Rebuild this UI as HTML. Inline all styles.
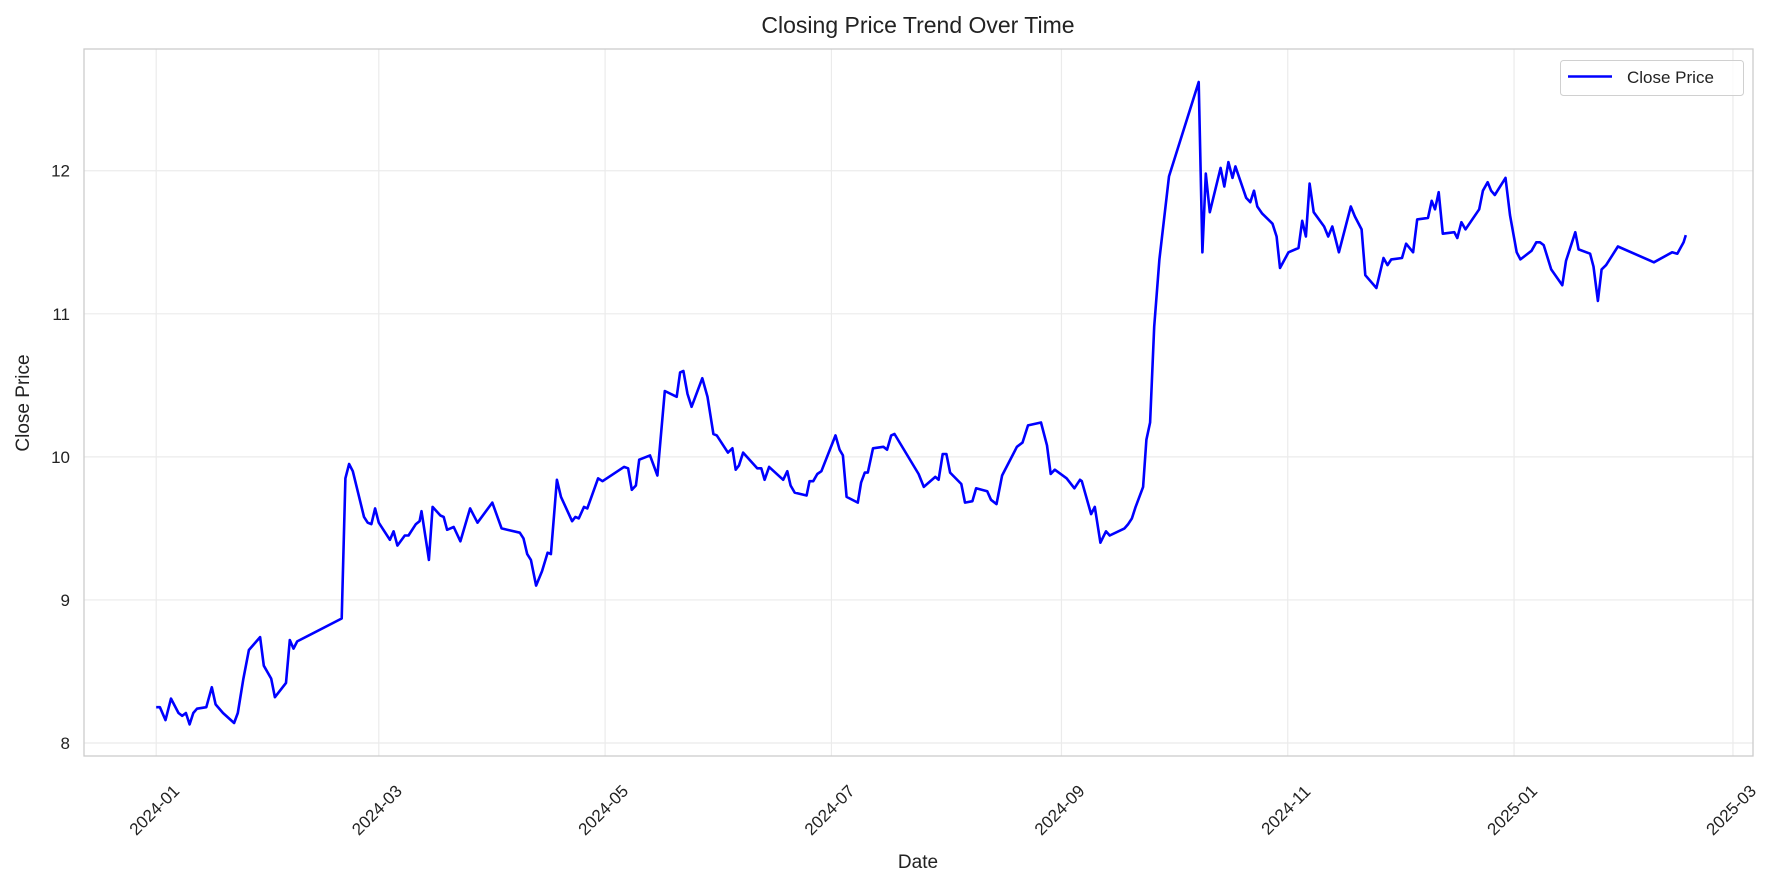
<!DOCTYPE html>
<html><head><meta charset="utf-8"><style>
html,body{margin:0;padding:0;background:#fff;}
svg{display:block;font-family:"Liberation Sans",sans-serif;}
</style></head><body>
<svg id="chart" width="1781" height="885" viewBox="0 0 1781 885">
<rect x="0" y="0" width="1781" height="885" fill="#fff"/>
<text x="918" y="33" font-size="23" text-anchor="middle" fill="#222">Closing Price Trend Over Time</text>
<text x="918" y="868" font-size="19" text-anchor="middle" fill="#222">Date</text>
<text x="0" y="0" font-size="19" text-anchor="middle" fill="#222" transform="translate(29,403) rotate(-90)">Close Price</text>
<g id="grid"></g>
<g id="ticks"></g>
<g id="series"></g>
<rect x="84" y="49" width="1669" height="707" fill="none" stroke="#cccccc" stroke-width="1.3"/>
<g>
<rect x="1560.5" y="60.5" width="183" height="35" rx="3" fill="#fff" fill-opacity="0.8" stroke="#d0d0d0"/>
<line x1="1568" y1="76.5" x2="1612" y2="76.5" stroke="#0000ff" stroke-width="2.4"/>
<text x="1627" y="83" font-size="17" fill="#222">Close Price</text>
</g>
</svg>
<script>
// data: days since 2024-01-01 and closing prices
const days = [0,1,2.5,4,6,7,8,9,10,11,13.5,15,16,18,21,22,23.5,25,28,29,31,32,35,36,37,38,50,51,52,53,56,57,58,59,60,63,64,65,67,68,70,71,71.5,73,73.5,74.5,76.6,77.5,78.4,80.2,82,84.6,86.6,90.6,93.1,98,99,100,101,102.4,104,105.5,106.4,108,109.1,112.1,113,113.9,115.3,116.2,119.1,120.3,126.1,127.2,128.2,129.3,130.2,133.1,135.1,137.1,140.3,141.2,142.1,143.2,144.3,147.2,148.6,150.2,151.1,154.1,155.3,156.2,157.1,158.2,162,163.1,164,165.2,169,170.1,171,172.1,175.3,176.1,177.1,178.2,179.3,183.1,184.2,185.1,186.1,189.1,190,191,191.8,193.2,196,197,198.1,199,205.5,206.9,210,210.9,212,213,214,217,218,220,221,224,225,226.5,228,232,233.5,235,238.5,240.1,241.1,242.2,245.4,247.5,249,249.5,252,253,254.5,256,257,261,262,263,264,266,266.9,267.9,269,270.4,273,281,282,282.9,284,286.9,287.9,289,290.1,290.9,293.8,294.9,295.9,296.8,298.1,300.9,302,302.9,305.2,307.9,308.9,309.9,310.9,312,314.8,315.9,317,317.7,318.8,322,323.1,324.9,325.9,328.9,330.8,331.9,332.9,335.8,336.9,338.8,339.9,342.8,343.8,344.7,345.7,346.8,349.9,350.7,351.8,352.9,356.6,357.6,358.9,359.8,360.8,363.7,364.9,366.7,367.7,370.7,372,373,374,376,379,380,382.5,383.4,386.5,387.4,388.6,389.6,390.8,394,403.7,408.6,410,411.7,412.3];
const prices = [8.25,8.25,8.16,8.31,8.21,8.19,8.21,8.13,8.21,8.24,8.25,8.39,8.27,8.21,8.14,8.21,8.45,8.65,8.74,8.54,8.45,8.32,8.42,8.72,8.66,8.71,8.87,9.85,9.95,9.90,9.58,9.54,9.53,9.64,9.54,9.42,9.48,9.38,9.45,9.45,9.53,9.55,9.62,9.37,9.28,9.65,9.59,9.58,9.49,9.51,9.41,9.64,9.54,9.68,9.50,9.47,9.43,9.32,9.28,9.10,9.20,9.33,9.32,9.84,9.72,9.55,9.58,9.57,9.65,9.64,9.85,9.83,9.93,9.92,9.77,9.80,9.98,10.01,9.87,10.46,10.42,10.59,10.60,10.44,10.35,10.55,10.42,10.16,10.15,10.03,10.06,9.91,9.94,10.03,9.92,9.92,9.84,9.93,9.84,9.90,9.80,9.75,9.73,9.83,9.83,9.88,9.90,10.15,10.05,10.01,9.72,9.68,9.82,9.89,9.89,10.06,10.07,10.05,10.15,10.16,9.88,9.79,9.86,9.84,10.02,10.02,9.89,9.81,9.68,9.69,9.78,9.76,9.70,9.67,9.87,10.07,10.10,10.22,10.24,10.08,9.88,9.91,9.85,9.78,9.84,9.83,9.60,9.65,9.40,9.48,9.45,9.50,9.53,9.57,9.65,9.79,10.12,10.24,10.91,11.38,11.96,12.62,11.43,11.98,11.71,12.02,11.89,12.06,11.95,12.03,11.81,11.78,11.86,11.75,11.70,11.63,11.54,11.32,11.43,11.46,11.65,11.54,11.91,11.71,11.61,11.54,11.61,11.54,11.43,11.75,11.68,11.59,11.27,11.18,11.39,11.34,11.38,11.39,11.49,11.43,11.66,11.67,11.79,11.73,11.85,11.56,11.57,11.53,11.64,11.59,11.73,11.86,11.92,11.86,11.83,11.95,11.69,11.43,11.38,11.44,11.50,11.50,11.48,11.31,11.20,11.37,11.57,11.45,11.42,11.33,11.09,11.31,11.34,11.47,11.36,11.43,11.42,11.50,11.55];
const xTickLabels = ["2024-01","2024-03","2024-05","2024-07","2024-09","2024-11","2025-01","2025-03"];
const xTickDays = [0,60,121,182,244,305,366,425];
const yTickValues = [8,9,10,11,12];

const NS = "http://www.w3.org/2000/svg";
const X0 = 156.2, PXD = 3.710;
const Y8 = 743, PXV = 143.07;
function xScale(d){ return X0 + d*PXD; }
function yScale(v){ return Y8 - (v-8)*PXV; }

const grid = document.getElementById('grid');
const ticks = document.getElementById('ticks');
xTickDays.forEach((d,i)=>{
  const x = xScale(d);
  const l = document.createElementNS(NS,'line');
  l.setAttribute('x1',x); l.setAttribute('x2',x); l.setAttribute('y1',49); l.setAttribute('y2',756);
  l.setAttribute('stroke','#ebebeb'); l.setAttribute('stroke-width','1.2');
  
  
  grid.appendChild(l);
  const t = document.createElementNS(NS,'text');
  t.setAttribute('x',0); t.setAttribute('y',0);
  t.setAttribute('text-anchor','middle'); t.setAttribute('font-size','17'); t.setAttribute('fill','#222');
  t.setAttribute('dominant-baseline','middle');
  t.setAttribute('transform','translate('+(x-1)+',811) rotate(-45)');
  t.textContent = xTickLabels[i];
  
  
  ticks.appendChild(t);
});
yTickValues.forEach(v=>{
  const y = yScale(v);
  const l = document.createElementNS(NS,'line');
  l.setAttribute('x1',84); l.setAttribute('x2',1753); l.setAttribute('y1',y); l.setAttribute('y2',y);
  l.setAttribute('stroke','#ebebeb'); l.setAttribute('stroke-width','1.2');
  
  
  grid.appendChild(l);
  const t = document.createElementNS(NS,'text');
  t.setAttribute('x',70); t.setAttribute('y',y+6);
  t.setAttribute('text-anchor','end'); t.setAttribute('font-size','17'); t.setAttribute('fill','#222');
  t.textContent = String(v);
  
  
  ticks.appendChild(t);
});

const pts = days.map((d,i)=> xScale(d).toFixed(1)+','+yScale(prices[i]).toFixed(1)).join(' ');
const pl = document.createElementNS(NS,'polyline');
pl.setAttribute('points',pts);
pl.setAttribute('fill','none'); pl.setAttribute('stroke','#0000ff'); pl.setAttribute('stroke-width','2.6');
pl.setAttribute('stroke-linejoin','round');


document.getElementById('series').appendChild(pl);
</script>
</body></html>
